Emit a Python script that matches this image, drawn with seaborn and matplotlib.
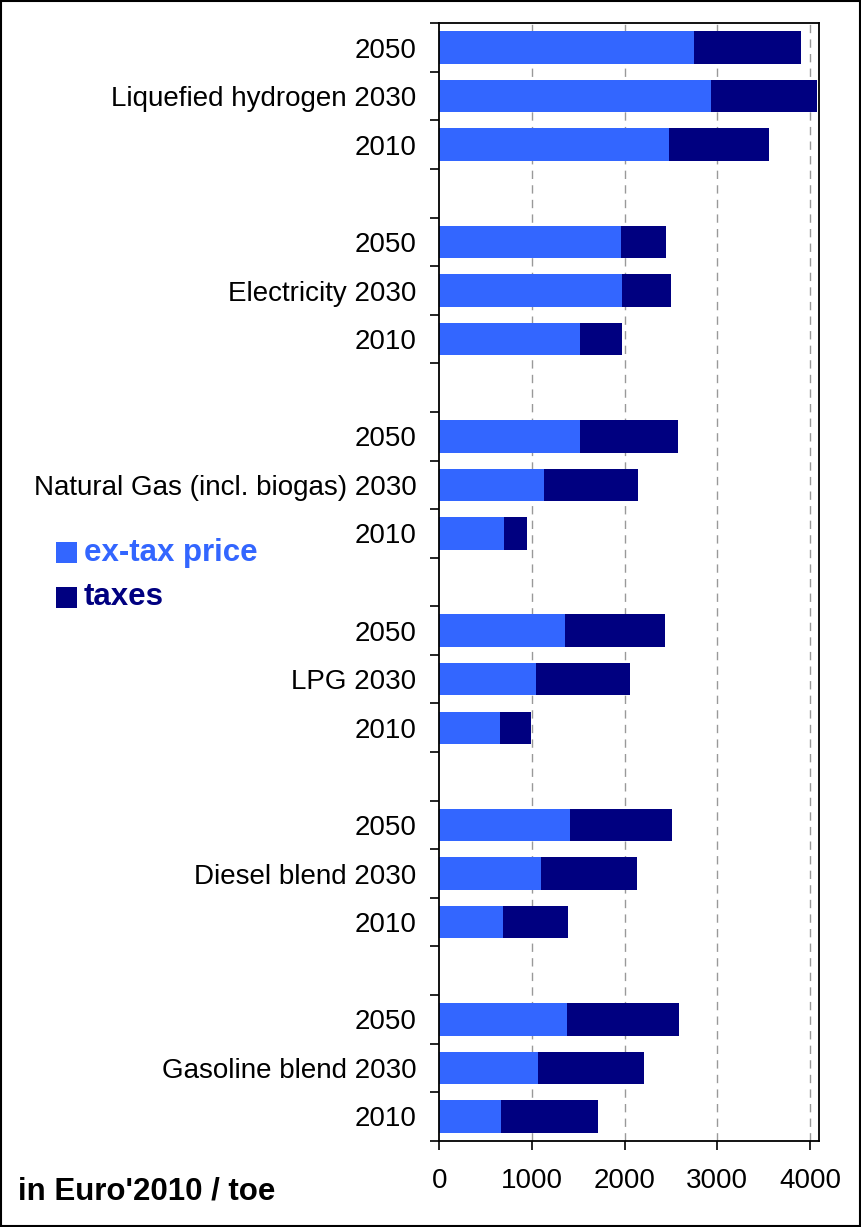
import matplotlib
matplotlib.use("Agg")
import matplotlib.pyplot as plt
from matplotlib.patches import Rectangle
from matplotlib.ticker import FixedLocator
import seaborn as sns
import pandas as pd
import numpy as np

# ── data (Euro'2010 / toe) ──
fuels = ["Liquefied hydrogen", "Electricity", "Natural Gas (incl. biogas)",
         "LPG", "Diesel blend", "Gasoline blend"]
years = ["2050", "2030", "2010"]

# one row per fuel, columns follow `years`
ex_tax = [
    [2745, 2930, 2475],
    [1960, 1970, 1515],
    [1515, 1130, 700],
    [1355, 1040, 655],
    [1410, 1095, 685],
    [1375, 1065, 665],
]
taxes = [
    [1160, 1140, 1085],
    [490, 525, 460],
    [1065, 1010, 245],
    [1080, 1015, 335],
    [1100, 1035, 700],
    [1210, 1140, 1045],
]

c_extax = "#3366FF"
c_tax = "#000080"

# ── build slot order (3 years per fuel, one empty slot between fuels) ──
rows = []
slot_order = []
slot_labels = []
for i, fuel in enumerate(fuels):
    for j, yr in enumerate(years):
        sid = f"{fuel}|{yr}"
        slot_order.append(sid)
        slot_labels.append(f"{fuel} {yr}" if yr == "2030" else yr)
        rows.append({"slot": sid, "ex_tax": ex_tax[i][j],
                     "total": ex_tax[i][j] + taxes[i][j]})
    if i < len(fuels) - 1:
        slot_order.append(f"gap{i}")
        slot_labels.append("")
df = pd.DataFrame(rows)

# ── plot ──
plt.rcParams["font.family"] = ["Liberation Sans", "DejaVu Sans"]
fig = plt.figure(figsize=(8.61, 12.27), dpi=100)
ax = fig.add_axes([0.5102, 0.0703, 0.4414, 0.9107])

sns.barplot(data=df, x="total", y="slot", order=slot_order, orient="h",
            color=c_tax, width=0.67, linewidth=0, errorbar=None, ax=ax,
            saturation=1)
sns.barplot(data=df, x="ex_tax", y="slot", order=slot_order, orient="h",
            color=c_extax, width=0.67, linewidth=0, errorbar=None, ax=ax,
            saturation=1)

ax.set_xlim(0, 4100)
ax.set_ylim(len(slot_order) - 0.5, -0.5)
ax.set_xticks([0, 1000, 2000, 3000, 4000])
ax.set_yticks(range(len(slot_order)))
ax.set_yticklabels(slot_labels)
ax.yaxis.set_minor_locator(FixedLocator(np.arange(-0.5, len(slot_order), 1.0)))
ax.tick_params(axis="y", which="major", length=0, pad=16.5, labelsize=20)
ax.tick_params(axis="y", which="minor", length=6.5, width=1.2, direction="out")
ax.tick_params(axis="x", length=6.5, width=1.2, direction="out", pad=13,
               labelsize=20)
ax.set_xlabel("")
ax.set_ylabel("")

for v in [1000, 2000, 3000, 4000]:
    ax.axvline(v, color="#999999", lw=1, dashes=(6, 4.5), zorder=0)
ax.set_axisbelow(True)
for s in ax.spines.values():
    s.set_linewidth(1.3)
    s.set_color("black")

# legend drawn as figure patches + coloured bold text
for k, (lab, col) in enumerate([("ex-tax price", c_extax), ("taxes", c_tax)]):
    yc = 1 - (552.5 + 44.5 * k) / 1227
    fig.add_artist(Rectangle((56 / 861, yc - 10.5 / 1227), 21 / 861, 21 / 1227,
                             transform=fig.transFigure, color=col, lw=0))
    fig.text(84 / 861, yc, lab, color=col, fontsize=22.5, fontweight="bold",
             va="center", ha="left")

fig.text(18 / 861, 1 - 1192 / 1227, "in Euro'2010 / toe", fontsize=22.5,
         fontweight="bold", va="center", ha="left")

# outer frame
fig.add_artist(Rectangle((0.0015, 0.001), 0.997, 0.998, transform=fig.transFigure,
                         fill=False, edgecolor="black", lw=1.5))

fig.savefig("out.png", dpi=100)
